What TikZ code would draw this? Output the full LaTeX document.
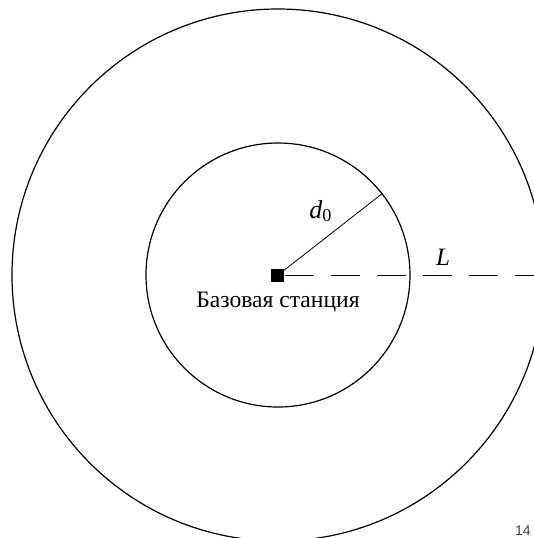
\documentclass[tikz,border=0pt]{standalone}
\usepackage{fontspec}
\setmainfont{Liberation Serif}
\newfontfamily\pagenofont{Liberation Sans}
\usetikzlibrary{positioning}
\usetikzlibrary{calc}

\begin{document}
\begin{tikzpicture}[x=0.5pt,y=-0.5pt]

%---------------------------------------
% Frame
%---------------------------------------
\useasboundingbox (0,0) rectangle (534,538);
\clip (0,0) rectangle (534,538);

\def\Rin{132}
\def\Rout{266}

%---------------------------------------
% Base station and cells
%---------------------------------------
\node[fill=black, minimum size=6.5pt, inner sep=0pt] (bs) at (278,275) {};

\draw[line width=0.6pt] (bs.center) circle[radius=\Rout];
\draw[line width=0.6pt] (bs.center) circle[radius=\Rin];

\node[below=1.5pt of bs, font=\fontsize{11.8}{13}\selectfont] (bslabel) {Базовая станция};

% Radius d_0
\coordinate (d0end) at ($(bs.center)+(-38:\Rin)$);
\draw[line width=0.4pt] (bs.center) -- (d0end);
\node[font=\fontsize{13}{15}\selectfont] (d0label) at (321,211) {\textit{d}\textsubscript{0}};

% Distance L
\coordinate (Lend) at (545,275);
\draw[line width=0.5pt, dash pattern=on 14.5pt off 8.5pt] (bs.east) -- (Lend);
\node[font=\fontsize{12.5}{14}\selectfont] (Llabel) at (443,257) {\textit{L}};

% Page number
\node[font=\pagenofont\fontsize{7}{8}\selectfont, text=black!75, inner sep=0pt] (pageno) at (523,531) {14};

\end{tikzpicture}
\end{document}
